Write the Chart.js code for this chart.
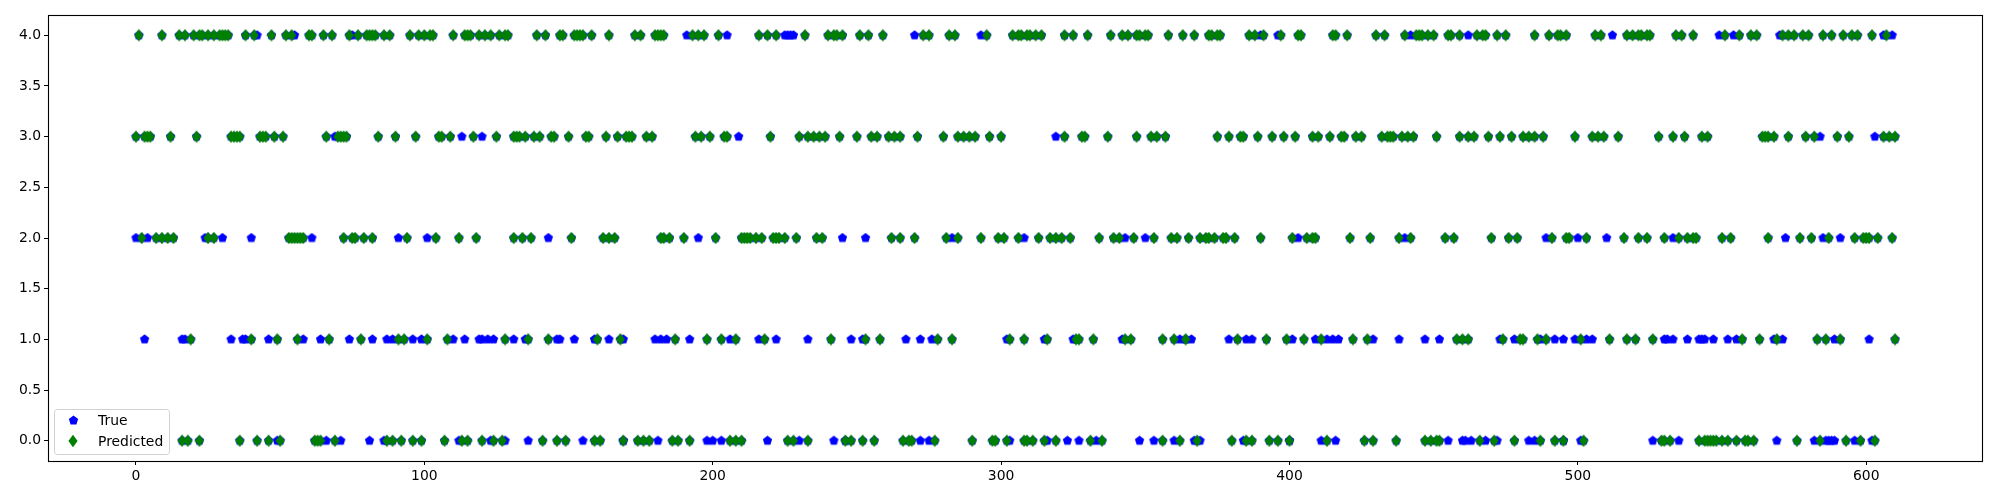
<!DOCTYPE html>
<html>
<head>
<meta charset="utf-8">
<script src="https://cdn.jsdelivr.net/npm/chart.js@4.4.1/dist/chart.umd.min.js"></script>
<style>
  html, body { margin: 0; padding: 0; background: #ffffff; }
  #wrap { width: 2000px; height: 500px; }
</style>
</head>
<body>
<div id="wrap"><canvas id="c" width="2000" height="500"></canvas></div>
<script>
// ---- data: sample indices (x) grouped by class (y) ----
// Predicted class per sample (green diamonds)
const predClass0 = [16,18,22,36,42,46,50,62,63,64,69,87,89,92,96,99,107,113,115,120,124,127,141,146,149,159,161,169,174,176,178,186,188,192,206,208,210,226,228,233,246,248,252,256,266,268,269,277,290,297,298,302,308,309,311,315,319,331,335,356,362,368,380,385,387,393,396,400,413,426,429,437,447,449,451,452,466,471,478,487,492,495,502,529,530,532,542,544,545,546,547,548,550,552,555,558,559,561,576,584,593,598,603];
const predClass1 = [19,40,49,56,67,78,91,93,101,108,128,136,143,160,168,187,198,203,208,218,241,253,258,278,283,303,308,316,326,327,332,343,345,356,360,364,382,392,399,405,411,422,427,458,460,462,474,480,481,486,489,501,511,517,520,526,557,563,569,583,586,591,610];
const predClass2 = [2,7,9,11,13,25,27,53,54,55,56,57,58,72,75,76,79,82,94,104,112,118,131,134,137,151,162,164,166,182,183,185,190,201,210,211,212,213,215,217,221,222,223,225,229,236,238,262,265,270,281,285,293,299,301,306,313,317,319,321,324,334,339,341,346,353,359,361,365,369,371,372,374,377,378,381,390,401,406,408,409,421,428,438,442,454,457,470,476,479,491,496,497,503,516,521,524,530,535,538,540,541,550,553,566,577,581,587,596,599,600,601,604,609];
const predClass3 = [0,3,4,5,12,21,33,34,35,36,43,44,45,48,51,66,70,71,72,73,84,90,97,105,106,109,117,125,131,132,133,135,138,140,144,145,150,156,157,163,167,170,171,172,177,179,194,196,199,204,205,220,230,233,235,237,239,244,250,255,257,261,263,265,271,280,285,287,289,291,296,300,322,328,329,337,347,352,354,357,375,379,383,384,389,394,398,402,408,410,414,418,419,423,425,432,434,435,436,439,441,443,451,459,462,464,469,473,477,481,483,485,488,499,505,507,509,514,528,533,537,543,545,564,565,566,568,573,579,582,590,594,606,608,610];
const predClass4 = [1,9,15,17,20,22,23,25,27,29,30,31,32,38,41,47,52,54,60,61,65,68,74,77,80,81,82,83,86,88,95,98,100,102,103,110,114,115,116,119,121,123,126,128,129,139,142,147,148,152,153,154,155,158,164,173,175,180,181,182,183,193,195,197,202,216,219,222,232,240,242,243,245,251,254,259,273,275,282,284,295,304,306,307,309,310,312,314,322,325,330,338,342,344,347,348,350,351,358,363,367,372,373,375,376,386,388,391,397,403,404,415,416,420,430,433,440,444,445,446,448,450,455,456,459,465,467,468,472,475,485,490,493,494,496,506,508,517,519,521,522,524,525,534,536,540,551,556,560,562,571,573,575,578,580,585,588,592,595,597,602,607];
// True class of the misclassified samples (blue pentagons that show)
const trueMissClass0 = [49,66,71,81,86,112,123,128,136,155,169,181,198,200,203,219,230,242,246,272,275,303,316,323,327,333,348,353,360,367,369,384,400,411,416,455,460,461,463,468,472,483,485,495,501,526,535,569,582,586,587,588,589,596,602];
const trueMissClass1 = [3,16,17,33,37,38,46,58,64,74,82,87,89,96,99,110,114,119,120,122,124,131,135,146,147,152,159,164,169,180,182,184,192,206,216,222,233,248,252,267,272,276,302,315,325,342,362,364,366,379,385,387,401,409,413,415,417,429,438,447,452,473,478,487,492,495,499,503,505,530,531,533,538,542,543,544,547,552,555,568,571,589,601];
const trueMissClass2 = [0,4,24,30,40,61,91,101,143,195,245,253,283,308,343,350,403,440,489,500,510,533,572,585,591];
const trueMissClass3 = [69,113,120,209,319,584,603];
const trueMissClass4 = [42,55,75,191,205,225,226,227,228,270,293,390,396,442,462,512,549,554,570,606,609];

const classValues = [0, 1, 2, 3, 4];
const xTickValues = [0, 100, 200, 300, 400, 500, 600];
const yTickValues = [0, 0.5, 1, 1.5, 2, 2.5, 3, 3.5, 4];
const seriesLabels = ['True', 'Predicted'];

// ---- marker shapes ----
function makePentagon(color) {
  const c = document.createElement('canvas');
  c.width = 11; c.height = 11;
  const g = c.getContext('2d');
  const cx = 5.5, cy = 5.5, r = 4.9;
  g.beginPath();
  for (let k = 0; k < 5; k++) {
    const a = -Math.PI / 2 + k * 2 * Math.PI / 5;
    const px = cx + r * Math.cos(a), py = cy + r * Math.sin(a);
    if (k === 0) g.moveTo(px, py); else g.lineTo(px, py);
  }
  g.closePath();
  g.fillStyle = color;
  g.fill();
  return c;
}
function makeThinDiamond(color) {
  const c = document.createElement('canvas');
  c.width = 10; c.height = 14;
  const g = c.getContext('2d');
  g.beginPath();
  g.moveTo(5, 0.7); g.lineTo(9.6, 7); g.lineTo(5, 13.3); g.lineTo(0.4, 7);
  g.closePath();
  g.fillStyle = color;
  g.fill();
  return c;
}
const pentagon = makePentagon('#0000ff');
const diamond = makeThinDiamond('#008000');

// ---- build point tables ----
const predLists = [predClass0, predClass1, predClass2, predClass3, predClass4];
const missLists = [trueMissClass0, trueMissClass1, trueMissClass2, trueMissClass3, trueMissClass4];
const predPoints = [];
classValues.forEach((c, i) => predLists[i].forEach(x => predPoints.push({ x: x, y: c })));
const truePoints = predPoints.map(p => ({ x: p.x, y: p.y })); // correctly classified: true == predicted
classValues.forEach((c, i) => missLists[i].forEach(x => truePoints.push({ x: x, y: c })));

const FONT = 'DejaVu Sans';
Chart.defaults.font.family = FONT;
Chart.defaults.font.size = 13.9;
Chart.defaults.color = '#000000';

const framePlugin = {
  id: 'frame',
  afterDraw(chart) {
    const a = chart.chartArea, ctx = chart.ctx;
    ctx.save();
    ctx.strokeStyle = '#000000';
    ctx.lineWidth = 1.1;
    ctx.strokeRect(Math.round(a.left) + 0.5, Math.round(a.top) + 0.5,
                   Math.round(a.right - a.left) - 1, Math.round(a.bottom - a.top));
    // legend box (lower left, inside axes)
    const bx = a.left + 6, by = a.bottom - 52, bw = 115, bh = 45;
    ctx.globalAlpha = 0.8;
    ctx.fillStyle = '#ffffff';
    ctx.beginPath();
    ctx.roundRect(bx + 0.5, by + 0.5, bw, bh, 3);
    ctx.fill();
    ctx.globalAlpha = 1;
    ctx.strokeStyle = 'rgba(204,204,204,0.9)';
    ctx.lineWidth = 1;
    ctx.stroke();
    const marks = [pentagon, diamond];
    ctx.font = '13.9px "' + FONT + '"';
    ctx.fillStyle = '#000000';
    ctx.textBaseline = 'middle';
    ctx.textAlign = 'left';
    chart.data.datasets.forEach((ds, i) => {
      const yy = by + 11 + i * 21;
      const m = marks[i];
      ctx.drawImage(m, Math.round(bx + 19 - m.width / 2), Math.round(yy - m.height / 2));
      ctx.fillText(ds.label, bx + 44, yy + 1);
    });
    ctx.restore();
  }
};

new Chart(document.getElementById('c'), {
  type: 'scatter',
  data: {
    datasets: [
      { label: seriesLabels[0], data: truePoints, pointStyle: pentagon, pointRadius: 5, pointHoverRadius: 5, order: 2, showLine: false },
      { label: seriesLabels[1], data: predPoints, pointStyle: diamond, pointRadius: 5, pointHoverRadius: 5, order: 1, showLine: false }
    ]
  },
  options: {
    responsive: false,
    animation: false,
    events: [],
    layout: { padding: { top: 15, right: 17, left: 0, bottom: 0 } },
    plugins: { legend: { display: false }, tooltip: { enabled: false } },
    scales: {
      x: {
        type: 'linear', min: -30.5, max: 640.5,
        afterBuildTicks: s => { s.ticks = xTickValues.map(v => ({ value: v })); },
        afterFit: s => { s.height = 39; },
        grid: { display: true, drawOnChartArea: false, drawTicks: true, tickLength: 4, color: '#000000', lineWidth: 1 },
        border: { display: false },
        ticks: { padding: 3, maxRotation: 0, color: '#000000', font: { size: 13.9 } }
      },
      y: {
        type: 'linear', min: -0.2, max: 4.2,
        afterBuildTicks: s => { s.ticks = yTickValues.map(v => ({ value: v })); },
        afterFit: s => { s.width = 48; },
        grid: { display: true, drawOnChartArea: false, drawTicks: true, tickLength: 4, color: '#000000', lineWidth: 1 },
        border: { display: false },
        ticks: { padding: 3, color: '#000000', font: { size: 13.9 }, callback: v => Number(v).toFixed(1) }
      }
    }
  },
  plugins: [framePlugin]
});
</script>
</body>
</html>
